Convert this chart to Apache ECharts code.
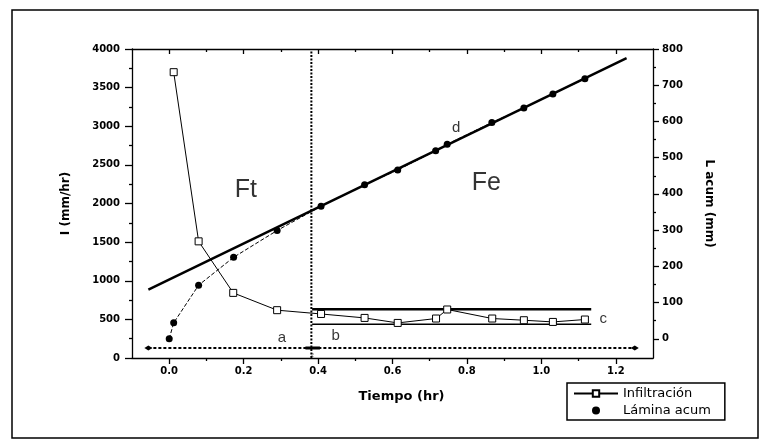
<!DOCTYPE html>
<html>
<head>
<meta charset="utf-8">
<script src="https://cdn.jsdelivr.net/npm/echarts@6/dist/echarts.min.js"></script>
<style>
  html, body { margin: 0; padding: 0; background: #fff; }
  #chart { width: 770px; height: 448px; }
</style>
</head>
<body>
<div id="chart"></div>
<script>
// Infiltration rate I (mm/hr) against time (hr)
const tiempoInf = [0.012, 0.079, 0.172, 0.29, 0.408, 0.525, 0.614, 0.717, 0.747, 0.868, 0.953, 1.031, 1.117];
const infiltracion = [3700, 1510, 843, 619, 570, 519, 454, 511, 628, 511, 489, 467, 498];

// Cumulative depth L (mm) against time (hr)
const tiempoLam = [0.0, 0.012, 0.079, 0.173, 0.29, 0.408, 0.525, 0.614, 0.716, 0.747, 0.867, 0.953, 1.031, 1.117];
const laminaAcum = [0, 44, 148, 225, 299, 366, 425, 466, 519, 537, 597, 637, 676, 718];

// Straight-line fit of the cumulative depth (d)
const ajusteX = [-0.056, 1.229];
const ajusteY = [136, 775];

// Upper and lower bounds of the steady rate (c)
const limiteX = [0.384, 1.134];
const limiteSup = 632;
const limiteInf = 437;

// Time that splits Ft from Fe
const corteX = 0.382;

// Base line a–b
const baseX = [-0.056, 1.251];
const baseY = 130;
const flechaX = [0.366, 0.405];

// Region names and point letters: [text, time, I]
const notasGrandes = [['Ft', 0.206, 2175], ['Fe', 0.852, 2262]];
const notasLetras = [['d', 0.771, 2975], ['c', 1.166, 511], ['a', 0.303, 265], ['b', 0.447, 281]];
const notasMini = [['2', 0.384, 40]];

// Axis ticks
const xEtiquetas = [0, 0.2, 0.4, 0.6, 0.8, 1.0, 1.2];
const xMenores = [0.1, 0.3, 0.5, 0.7, 0.9, 1.1];
const yDerEtiquetas = [0, 100, 200, 300, 400, 500, 600, 700, 800];
const yDerMenores = [50, 150, 250, 350, 450, 550, 650, 750];

const zip = (xs, ys) => xs.map((x, i) => [x, ys[i]]);
const black = '#000';
const axisFont = { color: black, fontFamily: 'DejaVu Sans', fontWeight: 'bold', fontSize: 10 };
const nameFont = { color: black, fontFamily: 'DejaVu Sans', fontWeight: 'bold', fontSize: 12 };
const lineAxis = { show: true, onZero: false, lineStyle: { color: black, width: 1.3 } };
const noLine = { show: false, onZero: false };

const xBase = { type: 'value', min: -0.1, max: 1.3, splitLine: { show: false } };
const yDerBase = { type: 'value', min: -53, max: 800, position: 'right', splitLine: { show: false } };

const chart = echarts.init(document.getElementById('chart'), null, { renderer: 'canvas' });

chart.setOption({
  animation: false,
  backgroundColor: '#fff',
  grid: { left: 132, top: 49, right: 117, bottom: 90 },
  graphic: [{
    type: 'rect', silent: true, z: -1,
    shape: { x: 12, y: 10, width: 746, height: 428 },
    style: { fill: 'none', stroke: black, lineWidth: 1.5 }
  }],
  legend: {
    left: 567, top: 383, orient: 'vertical',
    padding: [4, 14, 3, 6], itemGap: 4,
    itemWidth: 44, itemHeight: 8,
    borderColor: black, borderWidth: 1.5, borderRadius: 0,
    textStyle: { color: black, fontFamily: 'DejaVu Sans', fontSize: 13 },
    data: ['Infiltración', { name: 'Lámina acum', icon: 'circle' }]
  },
  xAxis: [
    Object.assign({}, xBase, {
      position: 'bottom',
      name: 'Tiempo (hr)', nameLocation: 'middle', nameGap: 32,
      nameTextStyle: Object.assign({ padding: [0, 0, 0, 18] }, nameFont, { fontSize: 13 }),
      axisLine: lineAxis,
      axisTick: { customValues: xEtiquetas, length: 6, lineStyle: { color: black, width: 1.3 } },
      axisLabel: Object.assign({ customValues: xEtiquetas, margin: 8, formatter: v => v.toFixed(1) }, axisFont)
    }),
    Object.assign({}, xBase, {
      position: 'bottom',
      axisLine: noLine,
      axisTick: { customValues: xMenores, length: 3, lineStyle: { color: black, width: 1.3 } },
      axisLabel: { show: false }
    }),
    Object.assign({}, xBase, {
      position: 'top',
      axisLine: lineAxis,
      axisTick: { customValues: xEtiquetas, inside: true, length: 5, lineStyle: { color: black, width: 1.3 } },
      axisLabel: { show: false }
    }),
    Object.assign({}, xBase, {
      position: 'top',
      axisLine: noLine,
      axisTick: { customValues: xMenores, inside: true, length: 3, lineStyle: { color: black, width: 1.3 } },
      axisLabel: { show: false }
    })
  ],
  yAxis: [
    {
      type: 'value', min: 0, max: 4000, interval: 500, position: 'left',
      name: 'I (mm/hr)', nameLocation: 'middle', nameGap: 60, nameTextStyle: nameFont,
      axisLine: lineAxis,
      axisTick: { length: 7, lineStyle: { color: black, width: 1.3 } },
      minorTick: { show: true, splitNumber: 2, length: 3, lineStyle: { color: black, width: 1.3 } },
      splitLine: { show: false },
      axisLabel: Object.assign({ margin: 12, formatter: v => String(v) }, axisFont)
    },
    Object.assign({}, yDerBase, {
      name: 'L acum (mm)', nameLocation: 'middle', nameRotate: -90, nameGap: 50, nameTextStyle: nameFont,
      axisLine: lineAxis,
      axisTick: { customValues: yDerEtiquetas, length: 6, lineStyle: { color: black, width: 1.3 } },
      axisLabel: Object.assign({ customValues: yDerEtiquetas, margin: 9, formatter: v => String(v) }, axisFont)
    }),
    Object.assign({}, yDerBase, {
      axisLine: noLine,
      axisTick: { customValues: yDerMenores, length: 3, lineStyle: { color: black, width: 1.3 } },
      axisLabel: { show: false }
    })
  ],
  series: [
    {
      type: 'line', z: 3,
      data: [[corteX, 0], [corteX, 4000]],
      symbol: 'none', lineStyle: { color: black, width: 2, type: [2, 1.5] }
    },
    {
      type: 'line', z: 3,
      data: zip(baseX, [baseY, baseY]),
      symbol: 'diamond', symbolSize: [8, 5], itemStyle: { color: black },
      lineStyle: { color: black, width: 2, type: [3, 2] }
    },
    {
      type: 'line', z: 3,
      data: zip(flechaX, [baseY, baseY]),
      symbol: 'none', lineStyle: { color: black, width: 3 }
    },
    {
      type: 'line', z: 3,
      data: zip(limiteX, [limiteSup, limiteSup]),
      symbol: 'none', lineStyle: { color: black, width: 2.5 }
    },
    {
      type: 'line', z: 3,
      data: zip(limiteX, [limiteInf, limiteInf]),
      symbol: 'none', lineStyle: { color: black, width: 1.3 }
    },
    {
      type: 'line', yAxisIndex: 1, z: 4,
      data: zip(ajusteX, ajusteY),
      symbol: 'none', lineStyle: { color: black, width: 2.5 }
    },
    {
      name: 'Infiltración', type: 'line', z: 5,
      data: zip(tiempoInf, infiltracion),
      symbol: 'rect', symbolSize: 7,
      itemStyle: { color: '#fff', borderColor: black, borderWidth: 1 },
      lineStyle: { color: black, width: 1 }
    },
    {
      name: 'Lámina acum', type: 'line', yAxisIndex: 1, z: 5,
      data: zip(tiempoLam, laminaAcum),
      symbol: 'circle', symbolSize: 7,
      itemStyle: { color: black },
      lineStyle: { color: black, width: 1, type: [4, 2] }
    },
    {
      type: 'scatter', z: 6, symbolSize: 0, silent: true,
      data: notasGrandes.map(n => [n[1], n[2], n[0]]),
      label: { show: true, position: 'inside', formatter: p => p.value[2],
               color: black, fontFamily: 'Liberation Sans', fontSize: 25 }
    },
    {
      type: 'scatter', z: 6, symbolSize: 0, silent: true,
      data: notasLetras.map(n => [n[1], n[2], n[0]]),
      label: { show: true, position: 'inside', formatter: p => p.value[2],
               color: black, fontFamily: 'Liberation Sans', fontSize: 15 }
    },
    {
      type: 'scatter', z: 6, symbolSize: 0, silent: true,
      data: notasMini.map(n => [n[1], n[2], n[0]]),
      label: { show: true, position: 'inside', formatter: p => p.value[2],
               color: black, fontFamily: 'Liberation Sans', fontSize: 6 }
    }
  ]
});
</script>
</body>
</html>
